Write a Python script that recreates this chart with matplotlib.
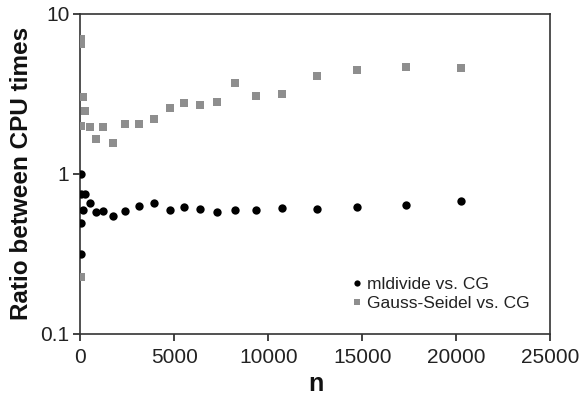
import matplotlib
matplotlib.use("Agg")
import matplotlib.pyplot as plt
from matplotlib.ticker import FixedLocator, FixedFormatter, NullLocator

plt.rcParams['font.family'] = ['Liberation Sans', 'DejaVu Sans']

# problem sizes
n = [9, 16, 25, 30, 117, 240, 505, 851, 1223, 1729, 2356, 3112, 3920,
     4745, 5516, 6372, 7250, 8245, 9351, 10745, 12580, 14707, 17330, 20229]

# CPU time ratios
mldivide_vs_cg = [0.315, 0.496, 1.0, 0.753, 0.598, 0.746, 0.656, 0.579,
                  0.587, 0.546, 0.587, 0.630, 0.659, 0.598, 0.622, 0.607,
                  0.581, 0.595, 0.598, 0.610, 0.601, 0.625, 0.643, 0.681]
gauss_seidel_vs_cg = [0.228, 2.0, 6.98, 6.5, 3.0, 2.48, 1.97, 1.64,
                      1.95, 1.55, 2.05, 2.05, 2.2, 2.58, 2.78, 2.69,
                      2.82, 3.69, 3.04, 3.15, 4.1, 4.42, 4.64, 4.55]

x_ticks = [0, 5000, 10000, 15000, 20000, 25000]
y_ticks = [0.1, 1, 10]
y_tick_labels = ["0.1", "1", "10"]

fig = plt.figure(figsize=(5.83, 3.96), dpi=100)
ax = fig.add_axes([0.138, 0.1566, 0.806, 0.809])

ax.plot(n, mldivide_vs_cg, 'o', color='black', markersize=6,
        markeredgewidth=0, label='mldivide vs. CG', zorder=3)
ax.plot(n, gauss_seidel_vs_cg, 's', color='#8e8e8e', markersize=5.2,
        markeredgewidth=0, label='Gauss-Seidel vs. CG', zorder=3)

ax.set_yscale('log')
ax.set_xlim(0, 25000)
ax.set_ylim(0.1, 10)
ax.xaxis.set_major_locator(FixedLocator(x_ticks))
ax.yaxis.set_major_locator(FixedLocator(y_ticks))
ax.yaxis.set_major_formatter(FixedFormatter(y_tick_labels))
ax.yaxis.set_minor_locator(NullLocator())

ax.tick_params(axis='both', direction='out', length=5, width=1.2,
               labelsize=15, color='#222222', labelcolor='#222222')
ax.tick_params(axis='x', pad=5)
ax.tick_params(axis='y', pad=3)
for side in ax.spines.values():
    side.set_linewidth(1.2)
    side.set_color('#333333')

ax.set_xlabel('n', fontsize=18, fontweight='bold', labelpad=4,
              color='#111111')
ax.set_ylabel('Ratio between CPU times', fontsize=17.5, fontweight='bold',
              labelpad=5, color='#111111')

leg = ax.legend(loc='lower right', frameon=False, fontsize=12.5,
                handlelength=0.5, handletextpad=0.35, markerscale=0.75,
                borderaxespad=0.5, labelspacing=0.25,
                bbox_to_anchor=(0.99, 0.022))
for t in leg.get_texts():
    t.set_color('#222222')

fig.savefig('out.png', dpi=100)
